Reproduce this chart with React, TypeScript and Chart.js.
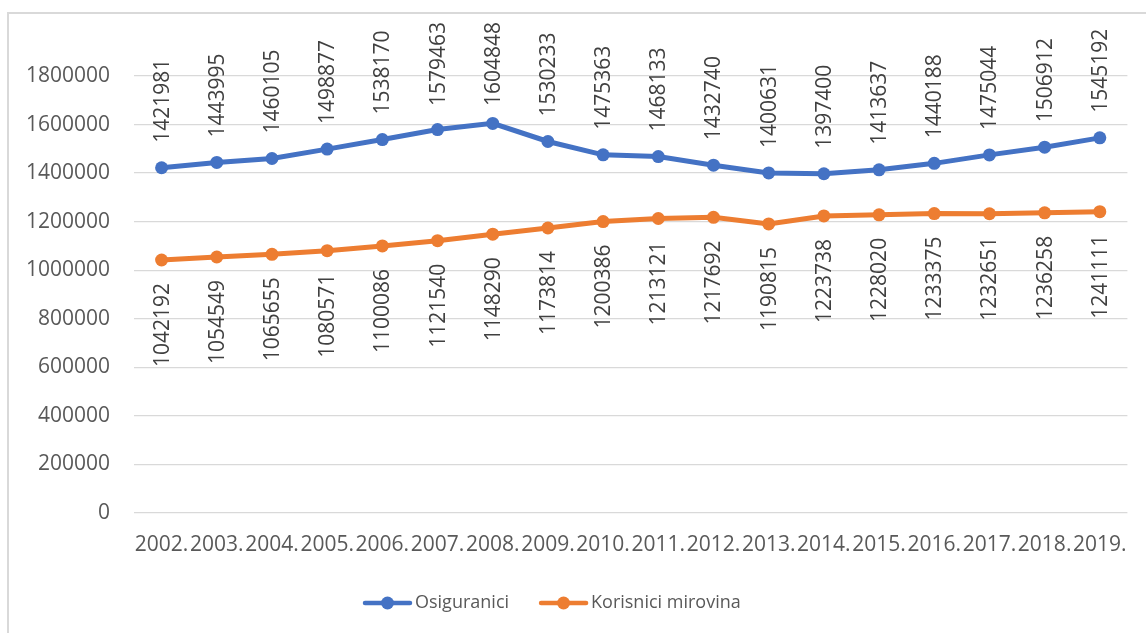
import React, { useEffect, useRef } from "react";
import { Chart, registerables } from "chart.js";
Chart.register(...registerables);

const years = ["2002.", "2003.", "2004.", "2005.", "2006.", "2007.", "2008.", "2009.", "2010.", "2011.", "2012.", "2013.", "2014.", "2015.", "2016.", "2017.", "2018.", "2019."];
const osiguranici = [1421981, 1443995, 1460105, 1498877, 1538170, 1579463, 1604848, 1530233, 1475363, 1468133, 1432740, 1400631, 1397400, 1413637, 1440188, 1475044, 1506912, 1545192];
const korisnici = [1042192, 1054549, 1065655, 1080571, 1100086, 1121540, 1148290, 1173814, 1200386, 1213121, 1217692, 1190815, 1223738, 1228020, 1233375, 1232651, 1236258, 1241111];
const seriesNames = ["Osiguranici", "Korisnici mirovina"];
const yMin = 0;
const yMax = 1800000;
const yStep = 200000;

const BLUE = "#4472C4";
const ORANGE = "#ED7D31";
const FONT = "'Open Sans', sans-serif";
const TEXT = "#595959";

const labelPlugin = {
  id: "vlabels",
  afterDatasetsDraw(chart: any) {
    const ctx = chart.ctx;
    ctx.save();
    ctx.font = `21px ${FONT}`;
    ctx.fillStyle = "#404040";
    chart.data.datasets.forEach((ds: any, di: number) => {
      const meta = chart.getDatasetMeta(di);
      meta.data.forEach((pt: any, i: number) => {
        const txt = String(ds.data[i]);
        const w = ctx.measureText(txt).width;
        ctx.save();
        ctx.translate(pt.x, pt.y);
        ctx.rotate(-Math.PI / 2);
        ctx.textBaseline = "middle";
        if (di === 0) {
          // keep the label inside the chart frame (top limit ~22px)
          let start = 25;
          const topY = pt.y - start - w;
          if (topY < 22) start -= 22 - topY;
          ctx.textAlign = "left";
          ctx.fillText(txt, start, 1);
        } else {
          ctx.textAlign = "right";
          ctx.fillText(txt, -23, 1);
        }
        ctx.restore();
      });
    });
    ctx.restore();
  },
};

const legendPlugin = {
  id: "xlLegend",
  afterDraw(chart: any) {
    const ctx = chart.ctx;
    ctx.save();
    ctx.font = `18px ${FONT}`;
    ctx.textBaseline = "middle";
    ctx.textAlign = "left";
    const y = 603;
    let x = 363;
    chart.data.datasets.forEach((ds: any) => {
      const color = ds.borderColor;
      ctx.strokeStyle = color;
      ctx.lineWidth = 4.5;
      ctx.lineCap = "round";
      ctx.beginPath();
      ctx.moveTo(x + 2, y);
      ctx.lineTo(x + 47, y);
      ctx.stroke();
      ctx.fillStyle = color;
      ctx.beginPath();
      ctx.arc(x + 24.5, y, 6.5, 0, Math.PI * 2);
      ctx.fill();
      ctx.fillStyle = TEXT;
      const label = ds.label;
      ctx.fillText(label, x + 52, y);
      x += 52 + ctx.measureText(label).width + 30;
    });
    ctx.restore();
  },
};

export default function App() {
  const ref = useRef<HTMLCanvasElement>(null);
  useEffect(() => {
    document.body.style.margin = "0";
    if (!ref.current) return;
    Chart.defaults.font.family = FONT;
    const chart = new Chart(ref.current, {
      type: "line",
      data: {
        labels: years,
        datasets: [
          {
            label: seriesNames[0],
            data: osiguranici,
            borderColor: BLUE,
            backgroundColor: BLUE,
            borderWidth: 5,
            pointRadius: 6.5,
            pointBorderWidth: 0,
            pointBackgroundColor: BLUE,
            tension: 0,
          },
          {
            label: seriesNames[1],
            data: korisnici,
            borderColor: ORANGE,
            backgroundColor: ORANGE,
            borderWidth: 5,
            pointRadius: 6.5,
            pointBorderWidth: 0,
            pointBackgroundColor: ORANGE,
            tension: 0,
          },
        ],
      },
      options: {
        responsive: false,
        animation: false,
        layout: { padding: { top: 76, right: 15, bottom: 76, left: 0 } },
        plugins: {
          legend: { display: false },
          tooltip: { enabled: false },
        },
        scales: {
          x: {
            offset: true,
            grid: { display: false, drawTicks: false },
            border: { display: false },
            ticks: {
              color: TEXT,
              font: { size: 21, family: FONT },
              padding: 19,
              maxRotation: 0,
              minRotation: 0,
              autoSkip: false,
            },
            afterFit: (s: any) => {
              s.height = 44;
            },
          },
          y: {
            min: yMin,
            max: yMax,
            grid: { color: "#D9D9D9", lineWidth: 1.3, drawTicks: false },
            border: { display: false },
            ticks: {
              stepSize: yStep,
              color: TEXT,
              font: { size: 21, family: FONT },
              padding: 24,
              callback: (v: any) => String(v),
            },
            afterFit: (s: any) => {
              s.width = 134;
            },
          },
        },
      },
      plugins: [labelPlugin, legendPlugin],
    });
    return () => chart.destroy();
  }, []);

  return (
    <div style={{ position: "fixed", left: 0, top: 0, width: 1146, height: 633, overflow: "hidden", background: "#fff" }}>
      <div
        style={{
          position: "absolute",
          left: 7,
          top: 12,
          width: 1300,
          height: 800,
          border: "2px solid #D9D9D9",
        }}
      />
      <canvas ref={ref} width={1146} height={633} style={{ position: "absolute", left: 0, top: 0 }} />
    </div>
  );
}
